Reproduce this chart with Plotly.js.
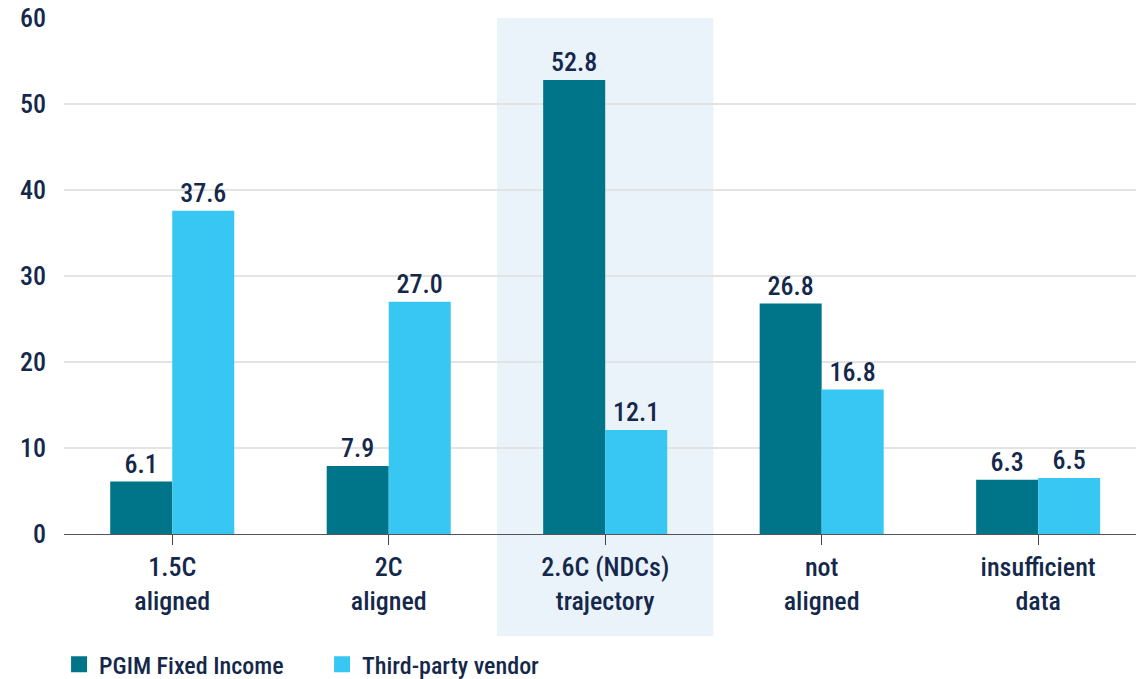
<!DOCTYPE html>
<html><head><meta charset="utf-8">
<script src="https://cdn.plot.ly/plotly-3.0.1.min.js"></script>
<style>body{margin:0;background:#fff}#c{width:1136px;height:679px}</style>
</head><body><div id="c"></div>
<script>
const categories = ["1.5C<br>aligned", "2C<br>aligned", "2.6C (NDCs)<br>trajectory", "not<br>aligned", "insufficient<br>data"];
const pgimValues = [6.1, 7.9, 52.8, 26.8, 6.3];
const vendorValues = [37.6, 27.0, 12.1, 16.8, 6.5];
const seriesNames = ["PGIM Fixed Income", "Third-party vendor"];
const yTicks = [0, 10, 20, 30, 40, 50, 60];

const FONT = "'Roboto Condensed', 'Liberation Sans Narrow', 'DejaVu Sans Condensed', Roboto, sans-serif";
const TXT = "#14284b";
const idx = categories.map((_, i) => i);

const labelFont = {family: FONT, size: 26, color: TXT, weight: 500};

const traces = [
  {type: "bar", name: seriesNames[0], x: idx, y: pgimValues, marker: {color: "#00758a"},
   text: pgimValues.map(v => v.toFixed(1)), textposition: "outside", cliponaxis: false,
   textfont: labelFont, hoverinfo: "y"},
  {type: "bar", name: seriesNames[1], x: idx, y: vendorValues, marker: {color: "#38c6f3"},
   text: vendorValues.map(v => v.toFixed(1)), textposition: "outside", cliponaxis: false,
   textfont: labelFont, hoverinfo: "y"}
];

const layout = {
  width: 1136, height: 679,
  margin: {l: 64, r: 0, t: 18, b: 145},
  paper_bgcolor: "#fff", plot_bgcolor: "rgba(0,0,0,0)",
  font: {family: FONT, color: TXT, size: 24, weight: 500},
  barmode: "group", bargap: 0.427, bargroupgap: 0,
  showlegend: true,
  legend: {orientation: "h", xref: "container", yref: "container", x: 0.052, xanchor: "left",
           y: 0.021, yanchor: "middle",
           font: {family: FONT, size: 24, color: TXT, weight: 500}, entrywidth: 218, entrywidthmode: "pixels",
           itemsizing: "constant"},
  xaxis: {range: [-0.5, 4.452], tickmode: "array", tickvals: idx, ticktext: categories,
          showgrid: false, zeroline: false, showline: true, linecolor: "#555", linewidth: 1,
          ticks: "outside", tickson: "boundaries", ticklen: 10, tickcolor: "#444",
          tickfont: labelFont, fixedrange: true},
  yaxis: {range: [0, 60], tickvals: yTicks, showgrid: true, gridcolor: "#e3e3e3", gridwidth: 1.5,
          zeroline: false, showline: false, ticks: "", ticklabelstandoff: 17,
          tickfont: labelFont, fixedrange: true},
  shapes: [{type: "rect", layer: "below", xref: "x", yref: "paper",
            x0: 1.5, x1: 2.5, y0: -0.198, y1: 1, fillcolor: "#eaf2fa", line: {width: 0}}]
};

Plotly.newPlot("c", traces, layout, {displayModeBar: false, staticPlot: true}).then(gd => {
  gd.querySelectorAll(".legend .legendpoints path").forEach(p => p.setAttribute("d", "M8,8H-8V-8H8Z"));
});
</script></body></html>
